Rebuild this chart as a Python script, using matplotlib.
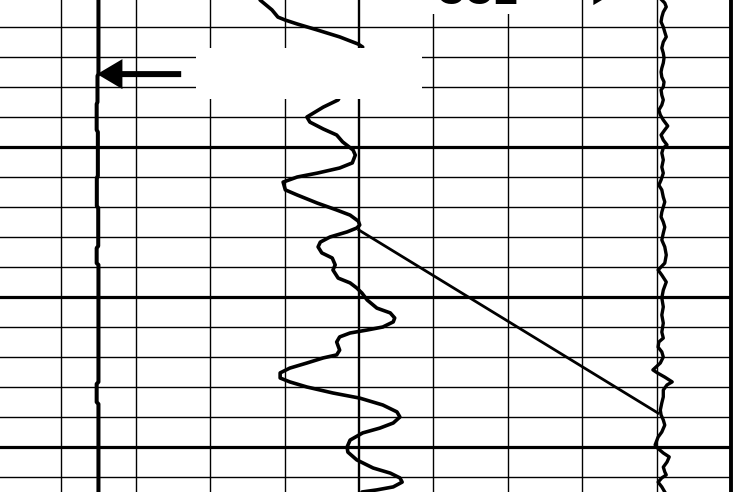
import matplotlib

matplotlib.use("Agg")
import matplotlib.pyplot as plt
from matplotlib.patches import Rectangle, FancyArrow

gr_depth = [1001.0, 1004.3, 1006.7, 1007.7, 1009.0, 1011.0, 1013.3, 1015.7, 1016.7,
            1034.3, 1036.7, 1040.0, 1041.7, 1044.0, 1046.0, 1048.3, 1051.0, 1052.7,
            1055.3, 1057.0, 1058.7, 1060.0, 1061.7, 1064.3, 1066.0, 1068.7, 1071.0,
            1072.7, 1074.7, 1076.0, 1077.0, 1078.3, 1080.0, 1081.7, 1083.3, 1085.3,
            1087.0, 1089.3, 1091.0, 1093.7, 1095.3, 1097.0, 1098.7, 1101.0, 1103.7,
            1105.3, 1107.0, 1108.3, 1110.0, 1111.0, 1112.0, 1113.3, 1115.0, 1117.7,
            1119.3, 1120.3, 1122.0, 1123.7, 1125.3, 1127.0, 1128.3, 1130.0, 1132.0,
            1133.7, 1136.0, 1138.3, 1140.0, 1142.0, 1143.7, 1145.3, 1147.7, 1150.0,
            1151.7, 1154.3, 1157.0, 1158.7, 1160.3, 1161.7, 1163.3, 1164.3, 1165.0]
gr_value = [36.7, 38.3, 39.1, 40.1, 41.7, 44.4, 47.4, 49.9, 50.5,
            47.2, 45.2, 43.0, 43.4, 45.2, 47.0, 47.8, 49.2, 49.5,
            49.1, 47.4, 44.4, 41.7, 39.8, 40.1, 41.7, 44.4, 47.0,
            48.8, 49.9, 50.1, 49.7, 48.4, 46.1, 44.8, 44.5, 45.0,
            46.4, 46.8, 46.5, 47.2, 48.8, 49.7, 50.4, 51.1, 52.4,
            54.2, 54.8, 54.6, 53.2, 51.1, 48.8, 47.4, 47.0, 47.4,
            47.0, 45.2, 43.0, 40.7, 39.4, 39.4, 40.7, 43.0, 46.5,
            50.1, 53.2, 55.1, 55.5, 54.6, 52.8, 50.5, 48.8, 48.4,
            48.5, 49.7, 51.9, 54.2, 55.5, 55.8, 54.6, 52.4, 50.4]

ccl_depth = [1001.0, 1002.0, 1003.3, 1005.0, 1006.7, 1008.3, 1010.0, 1011.7, 1013.3,
             1015.0, 1017.0, 1018.7, 1020.3, 1022.0, 1023.7, 1025.0, 1026.7, 1028.3,
             1030.0, 1031.0, 1032.7, 1034.3, 1036.0, 1037.7, 1039.3, 1041.0, 1043.0,
             1044.3, 1046.0, 1047.7, 1049.3, 1050.3, 1052.0, 1054.3, 1056.7, 1058.7,
             1061.0, 1062.7, 1064.3, 1066.7, 1068.3, 1070.0, 1071.7, 1073.3, 1075.0,
             1076.7, 1078.7, 1081.0, 1083.3, 1086.0, 1088.7, 1091.0, 1092.7, 1095.0,
             1097.7, 1100.3, 1103.3, 1106.0, 1108.7, 1111.7, 1113.7, 1115.0, 1116.7,
             1118.3, 1120.0, 1122.0, 1124.3, 1125.3, 1126.7, 1128.3, 1129.3, 1131.0,
             1133.3, 1135.3, 1137.7, 1139.3, 1141.0, 1142.7, 1145.0, 1146.7, 1149.3,
             1150.3, 1152.0, 1153.3, 1155.0, 1156.7, 1158.3, 1159.3, 1160.3, 1161.7,
             1163.3, 1165.0]
ccl_value = [90.7, 91.1, 91.3, 90.9, 90.7, 90.6, 90.9, 91.1, 91.3,
             90.9, 90.7, 90.9, 91.0, 90.9, 90.7, 90.6, 90.7, 91.0,
             90.9, 90.6, 90.7, 90.9, 90.7, 90.3, 90.5, 90.9, 91.5,
             91.1, 90.6, 90.9, 91.4, 90.9, 90.7, 90.9, 90.7, 90.9,
             90.6, 90.3, 90.7, 90.9, 91.1, 90.9, 90.7, 90.6, 90.9,
             91.1, 90.9, 90.7, 91.1, 91.3, 91.1, 90.2, 90.7, 91.3,
             90.9, 90.7, 90.9, 90.7, 90.9, 90.7, 90.9, 90.3, 90.2,
             90.7, 90.9, 90.5, 89.5, 90.1, 91.1, 92.1, 91.4, 90.9,
             90.9, 90.7, 90.5, 90.6, 90.9, 91.1, 90.7, 90.2, 89.8,
             90.1, 90.9, 91.7, 91.4, 90.9, 91.1, 91.3, 90.7, 90.2,
             90.7, 91.1]

sp_depth = [1001.0, 1025.7, 1026.3, 1035.0, 1035.7, 1044.3, 1045.0, 1059.7, 1060.3,
            1069.7, 1070.3, 1083.0, 1083.7, 1088.7, 1089.3, 1128.3, 1129.0, 1135.0,
            1135.7, 1165.0]
sp_value = [14.98, 14.98, 14.85, 14.85, 14.74, 14.74, 14.9, 14.9, 14.76,
            14.76, 14.95, 14.95, 14.74, 14.74, 14.98, 14.98, 14.74, 14.74,
            14.98, 14.98]

# correlation tie line between GR and CCL
tie_depth = [1077.7, 1138.7]
tie_value = [50.0, 90.2]

thick_x = [50]
thin_x = [10, 20, 30, 40, 60, 70, 80, 90]
thick_y = [1050, 1100, 1150]
thin_y = [1010, 1020, 1030, 1040, 1060, 1070, 1080, 1090,
          1110, 1120, 1130, 1140, 1160]

fig = plt.figure(figsize=(7.5, 4.92), dpi=100)
ax = fig.add_axes([0, 0, 731 / 750, 1])
ax.set_xlim(1.747, 100)
ax.set_ylim(1165, 1001)

for x in thin_x:
    ax.axvline(x, color="black", lw=1.0, zorder=1)
for x in thick_x:
    ax.axvline(x, color="black", lw=1.7, zorder=1)
for y in thin_y:
    ax.axhline(y, color="black", lw=1.0, zorder=1)
for y in thick_y:
    ax.axhline(y, color="black", lw=2.3, zorder=1)

ax.plot(sp_value, sp_depth, color="black", lw=2.9, zorder=3)
ax.plot(gr_value, gr_depth, color="black", lw=2.6, zorder=3,
        solid_joinstyle="round", solid_capstyle="round")
ax.plot(ccl_value, ccl_depth, color="black", lw=2.4, zorder=3,
        solid_joinstyle="round")
ax.plot(tie_value, tie_depth, color="black", lw=2.0, zorder=3)

# label boxes (text blanked out)
ax.add_patch(Rectangle((28.1, 1017.0), 30.4, 17.0, facecolor="white",
                       edgecolor="none", zorder=4))
ax.add_patch(Rectangle((54.0, 990.0), 24.0, 15.7, facecolor="white",
                       edgecolor="none", zorder=4, clip_on=False))

ax.add_patch(FancyArrow(26.1, 1025.7, -11.3, 0, width=2.0, head_width=10.0,
                        head_length=3.4, length_includes_head=True,
                        color="black", lw=0, zorder=5))
ax.add_patch(FancyArrow(74.3, 997.7, 10.6, 0, width=2.0, head_width=10.0,
                        head_length=3.4, length_includes_head=True,
                        color="black", lw=0, zorder=5, clip_on=False))
ax.text(60.2, 1002.3, "CCL", fontsize=29, fontweight="bold",
        family="Liberation Sans", ha="left", va="baseline", zorder=5,
        clip_on=False)

ax.set_xticks([])
ax.set_yticks([])
for s in ("left", "top", "bottom"):
    ax.spines[s].set_visible(False)
ax.spines["right"].set_linewidth(2.8)

fig.savefig("out.png", dpi=100)
